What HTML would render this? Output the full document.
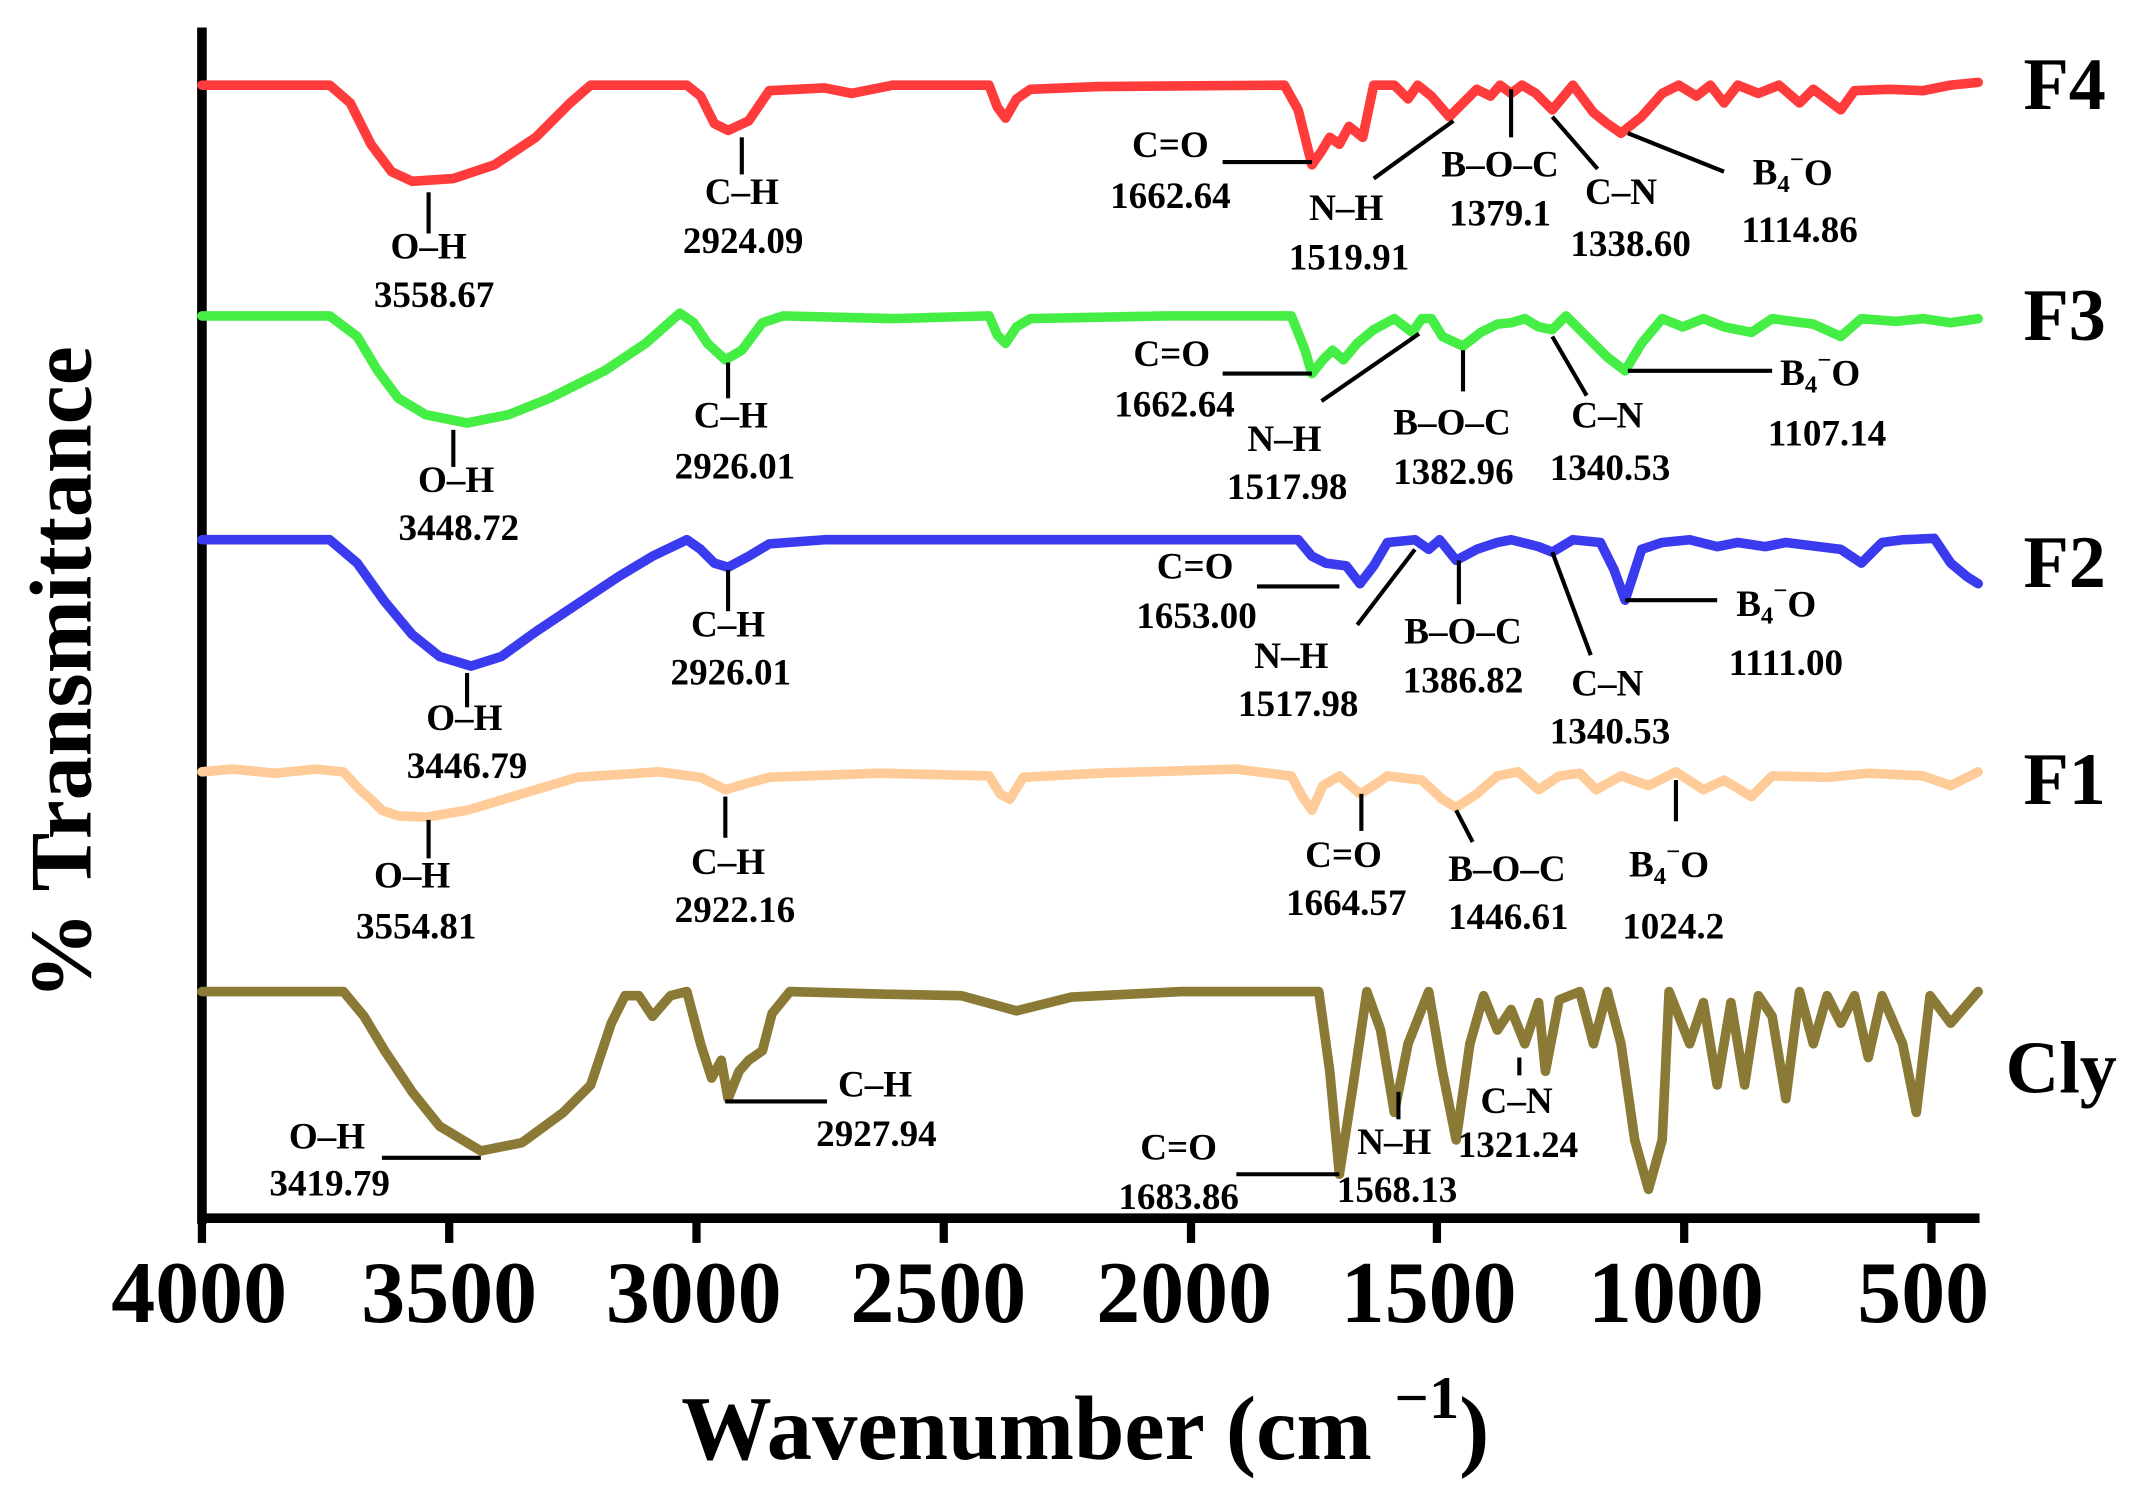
<!DOCTYPE html>
<html><head><meta charset="utf-8"><style>
html,body{margin:0;padding:0;background:#fff;}
svg{display:block;}
text{font-family:"Liberation Serif",serif;font-weight:bold;fill:#000;}
.a{font-size:27px;text-anchor:middle;dominant-baseline:central;}
.t{font-size:64px;text-anchor:middle;dominant-baseline:central;}
.f{font-size:54px;dominant-baseline:central;}
.s{fill:none;stroke-width:7;stroke-linejoin:round;stroke-linecap:round;}
.l{stroke:#000;stroke-width:3;}
</style></head><body>
<svg width="2154" height="1497" viewBox="0 0 1568 1090" preserveAspectRatio="none" xmlns="http://www.w3.org/2000/svg">
<rect width="1568" height="1090" fill="#fff"/>
<line x1="147" y1="20" x2="147" y2="891" stroke="#000" stroke-width="7"/>
<line x1="144" y1="887" x2="1441" y2="887" stroke="#000" stroke-width="7"/>
<g stroke="#000" stroke-width="6">
<line x1="147" y1="887" x2="147" y2="905"/><line x1="327" y1="887" x2="327" y2="905"/>
<line x1="507" y1="887" x2="507" y2="905"/><line x1="687" y1="887" x2="687" y2="905"/>
<line x1="867" y1="887" x2="867" y2="905"/><line x1="1046" y1="887" x2="1046" y2="905"/>
<line x1="1226" y1="887" x2="1226" y2="905"/><line x1="1406" y1="887" x2="1406" y2="905"/>
</g>
<g class="t">
<text class="t" x="145" y="942">4000</text><text class="t" x="327" y="942">3500</text>
<text class="t" x="505" y="942">3000</text><text class="t" x="683" y="942">2500</text>
<text class="t" x="862" y="942">2000</text><text class="t" x="1040" y="942">1500</text>
<text class="t" x="1220" y="942">1000</text><text class="t" x="1400" y="942">500</text>
</g>
<text x="790" y="1040" style="font-size:66px;text-anchor:middle;dominant-baseline:central">Wavenumber (cm <tspan dy="-22" style="font-size:44px">−1</tspan><tspan dy="22">)</tspan></text>
<text transform="translate(45,490) rotate(-90)" style="font-size:64px;text-anchor:middle;dominant-baseline:central">% Transmittance</text>

<polyline class="s" stroke="#ff3b3b" points="147,62 240,62 255,75 270,105 285,125 300,132 330,130 360,120 390,100 415,75 430,62 500,62 510,70 520,90 530,95 545,88 560,66 600,64 620,68 650,62 720,62 726,78 732,86 740,72 750,65 800,63 935,62 945,80 955,120 962,110 968,100 975,105 982,92 992,100 1000,62 1015,62 1025,72 1032,62 1042,70 1055,85 1065,75 1075,65 1085,70 1092,62 1100,68 1108,62 1118,68 1130,80 1145,62 1160,82 1170,90 1180,97 1195,85 1210,68 1222,62 1235,70 1245,62 1255,75 1265,62 1280,68 1295,62 1310,75 1320,65 1340,80 1350,66 1375,65 1400,66 1420,62 1440,60"/>
<polyline class="s" stroke="#44ee44" points="147,230 240,230 260,245 275,270 290,290 310,302 340,308 370,302 400,290 440,270 470,250 495,228 505,235 515,250 528,262 540,255 555,235 570,230 650,232 720,230 726,244 732,250 740,238 750,232 850,230 940,230 950,255 955,272 963,262 970,255 978,262 988,250 1000,240 1015,232 1028,242 1035,232 1042,232 1050,245 1065,252 1078,242 1090,236 1100,235 1110,232 1120,238 1130,240 1140,230 1160,250 1170,260 1183,270 1195,250 1210,232 1225,238 1240,232 1255,238 1275,242 1290,232 1320,236 1340,245 1355,232 1380,234 1400,232 1420,235 1440,232"/>
<polyline class="s" stroke="#3a3aee" points="147,393 240,393 260,410 280,438 300,462 320,478 343,485 365,478 390,460 420,440 450,420 475,405 500,393 510,400 520,410 530,413 545,405 560,396 600,393 850,393 945,393 955,405 965,410 980,412 990,425 1000,412 1010,395 1030,393 1040,400 1048,393 1060,408 1075,400 1090,395 1100,393 1120,398 1130,402 1145,393 1165,395 1175,415 1183,437 1195,400 1210,395 1230,393 1250,398 1265,395 1285,398 1300,395 1340,400 1355,410 1370,395 1385,393 1408,392 1420,410 1432,420 1440,425"/>
<polyline class="s" stroke="#ffcc99" points="147,562 170,560 200,563 230,560 250,562 262,575 270,582 278,590 290,594 310,595 340,590 380,578 420,566 480,562 510,566 528,575 545,570 560,566 640,563 720,565 728,578 735,582 745,566 800,563 900,560 940,565 948,580 955,590 963,572 975,565 990,578 1000,572 1010,565 1035,568 1050,582 1060,588 1075,578 1090,565 1105,562 1120,575 1135,565 1150,563 1162,575 1180,565 1200,572 1220,562 1240,575 1255,568 1275,580 1290,565 1330,566 1360,563 1400,565 1420,572 1440,562"/>
<polyline class="s" stroke="#8a7a35" points="147,722 250,722 265,740 280,765 300,795 320,820 350,838 380,832 410,810 430,790 445,745 455,725 465,725 475,740 488,725 500,722 510,760 518,785 525,772 530,800 538,780 545,772 555,765 562,738 575,722 650,724 700,725 740,736 780,726 860,722 960,722 968,780 975,855 985,790 995,722 1005,750 1015,810 1025,760 1040,722 1050,780 1060,830 1070,760 1080,725 1090,750 1100,735 1110,760 1120,730 1125,780 1135,728 1150,722 1160,760 1170,722 1180,760 1190,830 1200,866 1210,830 1215,722 1230,760 1240,730 1250,790 1260,730 1270,790 1280,725 1290,740 1300,800 1310,722 1320,760 1330,725 1340,745 1350,725 1360,770 1370,725 1385,760 1395,810 1405,725 1420,745 1440,722"/>

<text class="f" x="1473" y="62">F4</text>
<text class="f" x="1473" y="230">F3</text>
<text class="f" x="1473" y="410">F2</text>
<text class="f" x="1473" y="568">F1</text>
<text class="f" x="1460" y="778">Cly</text>

<g class="l">
<line x1="312" y1="140" x2="312" y2="170"/><line x1="540" y1="100" x2="540" y2="127"/>
<line x1="890" y1="118" x2="955" y2="118"/><line x1="1000" y1="130" x2="1058" y2="88"/>
<line x1="1100" y1="65" x2="1100" y2="100"/><line x1="1130" y1="85" x2="1163" y2="123"/>
<line x1="1185" y1="97" x2="1255" y2="125"/>
<line x1="330" y1="313" x2="330" y2="340"/><line x1="530" y1="264" x2="530" y2="290"/>
<line x1="890" y1="272" x2="955" y2="272"/><line x1="962" y1="292" x2="1033" y2="243"/>
<line x1="1065" y1="255" x2="1065" y2="285"/><line x1="1130" y1="245" x2="1155" y2="288"/>
<line x1="1185" y1="270" x2="1290" y2="270"/>
<line x1="340" y1="490" x2="340" y2="515"/><line x1="530" y1="415" x2="530" y2="445"/>
<line x1="915" y1="427" x2="975" y2="427"/><line x1="988" y1="455" x2="1030" y2="400"/>
<line x1="1062" y1="408" x2="1062" y2="440"/><line x1="1130" y1="402" x2="1158" y2="477"/>
<line x1="1183" y1="437" x2="1250" y2="437"/>
<line x1="312" y1="597" x2="312" y2="625"/><line x1="528" y1="580" x2="528" y2="610"/>
<line x1="991" y1="578" x2="991" y2="605"/><line x1="1060" y1="590" x2="1072" y2="613"/>
<line x1="1220" y1="568" x2="1220" y2="598"/>
<line x1="278" y1="843" x2="350" y2="843"/><line x1="528" y1="802" x2="602" y2="802"/>
<line x1="900" y1="855" x2="975" y2="855"/><line x1="1018" y1="795" x2="1018" y2="815"/>
<line x1="1106" y1="770" x2="1106" y2="783"/>
</g>

<g>
<text class="a" x="312" y="180">O–H</text><text class="a" x="316" y="215">3558.67</text>
<text class="a" x="540" y="140">C–H</text><text class="a" x="541" y="176">2924.09</text>
<text class="a" x="852" y="106">C=O</text><text class="a" x="852" y="143">1662.64</text>
<text class="a" x="980" y="152">N–H</text><text class="a" x="982" y="188">1519.91</text>
<text class="a" x="1092" y="120">B–O–C</text><text class="a" x="1092" y="156">1379.1</text>
<text class="a" x="1180" y="140">C–N</text><text class="a" x="1187" y="178">1338.60</text>
<text class="a" x="1305" y="126">B<tspan dy="8" style="font-size:18px">4</tspan><tspan dy="-18" style="font-size:18px">−</tspan><tspan dy="10">O</tspan></text><text class="a" x="1310" y="168">1114.86</text>

<text class="a" x="332" y="350">O–H</text><text class="a" x="334" y="385">3448.72</text>
<text class="a" x="532" y="303">C–H</text><text class="a" x="535" y="340">2926.01</text>
<text class="a" x="853" y="258">C=O</text><text class="a" x="855" y="295">1662.64</text>
<text class="a" x="935" y="320">N–H</text><text class="a" x="937" y="355">1517.98</text>
<text class="a" x="1057" y="308">B–O–C</text><text class="a" x="1058" y="344">1382.96</text>
<text class="a" x="1170" y="303">C–N</text><text class="a" x="1172" y="341">1340.53</text>
<text class="a" x="1325" y="272">B<tspan dy="8" style="font-size:18px">4</tspan><tspan dy="-18" style="font-size:18px">−</tspan><tspan dy="10">O</tspan></text><text class="a" x="1330" y="316">1107.14</text>

<text class="a" x="338" y="523">O–H</text><text class="a" x="340" y="558">3446.79</text>
<text class="a" x="530" y="455">C–H</text><text class="a" x="532" y="490">2926.01</text>
<text class="a" x="870" y="413">C=O</text><text class="a" x="871" y="449">1653.00</text>
<text class="a" x="940" y="478">N–H</text><text class="a" x="945" y="513">1517.98</text>
<text class="a" x="1065" y="460">B–O–C</text><text class="a" x="1065" y="496">1386.82</text>
<text class="a" x="1170" y="498">C–N</text><text class="a" x="1172" y="533">1340.53</text>
<text class="a" x="1293" y="440">B<tspan dy="8" style="font-size:18px">4</tspan><tspan dy="-18" style="font-size:18px">−</tspan><tspan dy="10">O</tspan></text><text class="a" x="1300" y="483">1111.00</text>

<text class="a" x="300" y="638">O–H</text><text class="a" x="303" y="675">3554.81</text>
<text class="a" x="530" y="628">C–H</text><text class="a" x="535" y="663">2922.16</text>
<text class="a" x="978" y="623">C=O</text><text class="a" x="980" y="658">1664.57</text>
<text class="a" x="1097" y="633">B–O–C</text><text class="a" x="1098" y="668">1446.61</text>
<text class="a" x="1215" y="630">B<tspan dy="8" style="font-size:18px">4</tspan><tspan dy="-18" style="font-size:18px">−</tspan><tspan dy="10">O</tspan></text><text class="a" x="1218" y="675">1024.2</text>

<text class="a" x="238" y="828">O–H</text><text class="a" x="240" y="862">3419.79</text>
<text class="a" x="637" y="790">C–H</text><text class="a" x="638" y="826">2927.94</text>
<text class="a" x="858" y="836">C=O</text><text class="a" x="858" y="872">1683.86</text>
<text class="a" x="1015" y="832">N–H</text><text class="a" x="1017" y="867">1568.13</text>
<text class="a" x="1104" y="802">C–N</text><text class="a" x="1105" y="834">1321.24</text>
</g>
</svg>
</body></html>
